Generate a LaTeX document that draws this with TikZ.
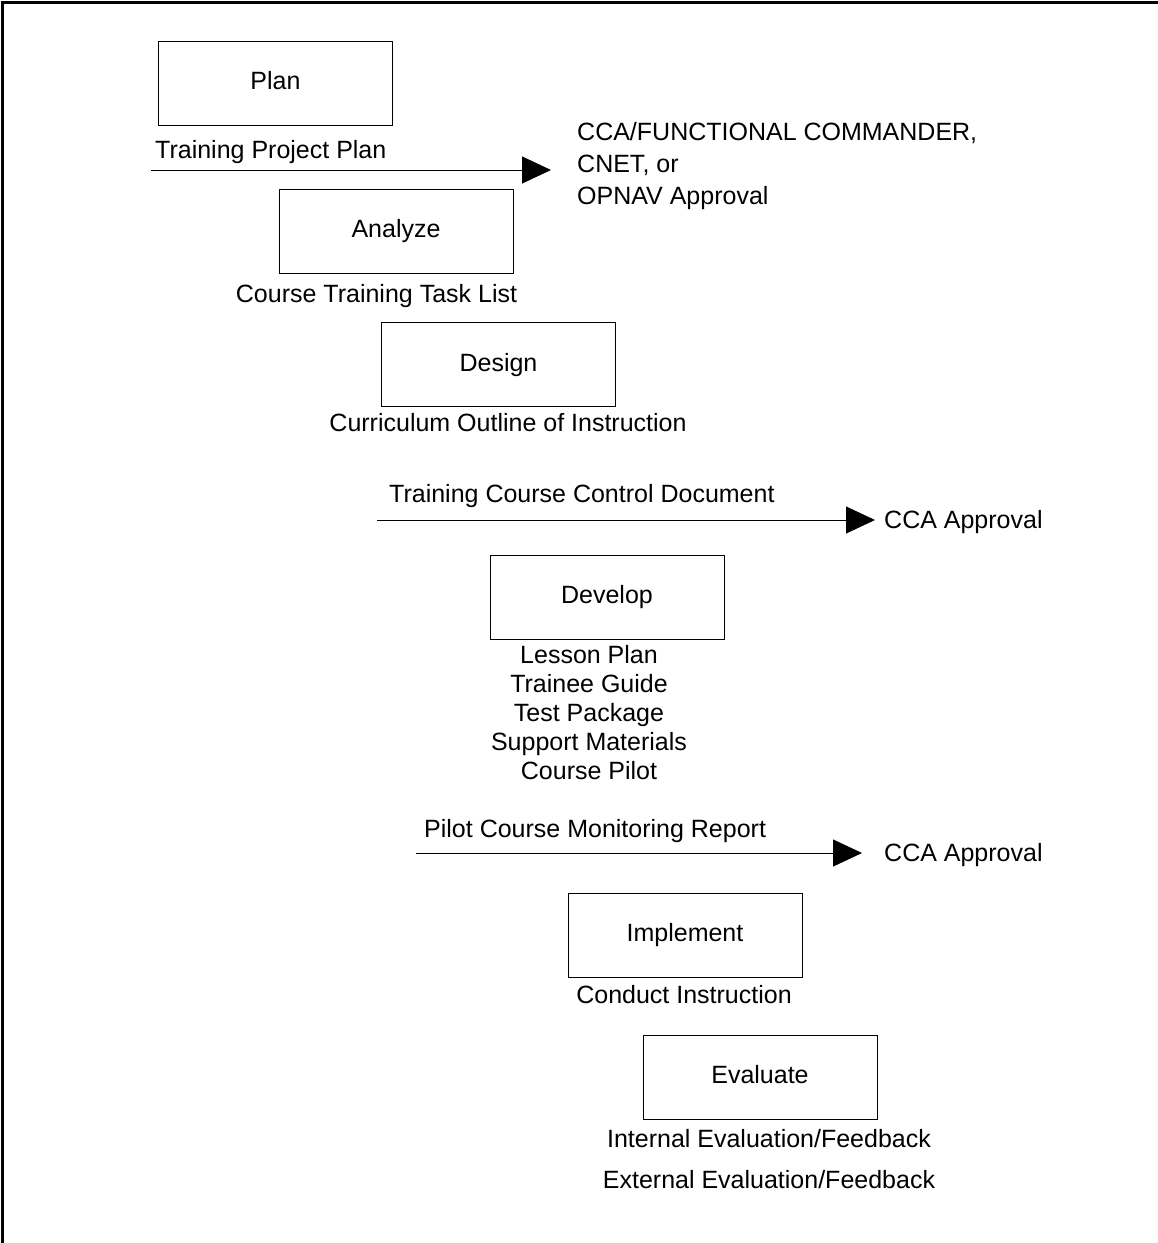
\documentclass[tikz,border=0pt]{standalone}
\usepackage{fontspec}
\setmainfont{Liberation Sans}
\usetikzlibrary{arrows.meta,positioning}

\begin{document}
\begin{tikzpicture}[x=1pt, y=-1pt,
    phase/.style={rectangle, draw, line width=0.9pt, minimum width=234pt, minimum height=84pt, inner sep=0pt, text height=18pt, text depth=5pt, font=\fontsize{25}{29}\selectfont},
    doc/.style={inner sep=0pt, font=\fontsize{25}{29}\selectfont},
    arrow/.style={-{Triangle[length=29pt,width=27pt]}, line width=0.9pt}
]
\useasboundingbox (0,0) rectangle (1158,1243);
% frame, top and left edge only
\draw[line width=3pt] (2,1243) -- (2,2) -- (1158,2);

% the six phases
\node[phase] (plan) at (275.5,83) {Plan};
\node[phase] (analyze) at (396,231) {Analyze};
\node[phase] (design) at (498.5,364.5) {Design};
\node[phase] (develop) at (607,597) {Develop};
\node[phase] (implement) at (685,935) {Implement};
\node[phase] (evaluate) at (760,1077) {Evaluate};

% products under each phase
\node[doc, anchor=base west] (tpp) at (155,158) {Training Project Plan};
\node[doc, anchor=base] (cttl) at (376.5,302) {Course Training Task List};
\node[doc, anchor=base] (coi) at (508,431) {Curriculum Outline of Instruction};
\node[doc, anchor=base west] (tccd) at (389,502) {Training Course Control Document};
\node[doc, anchor=north, align=center] (devdocs) at (589,645) {Lesson Plan\\Trainee Guide\\Test Package\\Support Materials\\Course Pilot};
\node[doc, anchor=base west] (pcmr) at (424,837) {Pilot Course Monitoring Report};
\node[doc, anchor=base] (ci) at (684,1003) {Conduct Instruction};
\node[doc, anchor=base] (ief) at (769,1147) {Internal Evaluation/Feedback};
\node[doc, anchor=base] (eef) at (769,1188) {External Evaluation/Feedback};

% approval authorities
\node[doc, anchor=north west, align=left, font=\fontsize{25}{32}\selectfont] (opnav) at (577,122) {CCA/FUNCTIONAL COMMANDER,\\CNET, or\\OPNAV Approval};
\node[doc, anchor=base west] (cca1) at (884,528) {CCA Approval};
\node[doc, anchor=base west] (cca2) at (884,861) {CCA Approval};

% arrows to approval
\coordinate (tpp_from) at (151,170);
\coordinate (tccd_from) at (377,520);
\coordinate (pcmr_from) at (416,853);
\draw[arrow, shorten >=26pt] (tpp_from) -- (tpp_from -| opnav.west);
\draw[arrow, shorten >=9pt] (tccd_from) -- (tccd_from -| cca1.west);
\draw[arrow, shorten >=22pt] (pcmr_from) -- (pcmr_from -| cca2.west);

\end{tikzpicture}
\end{document}
